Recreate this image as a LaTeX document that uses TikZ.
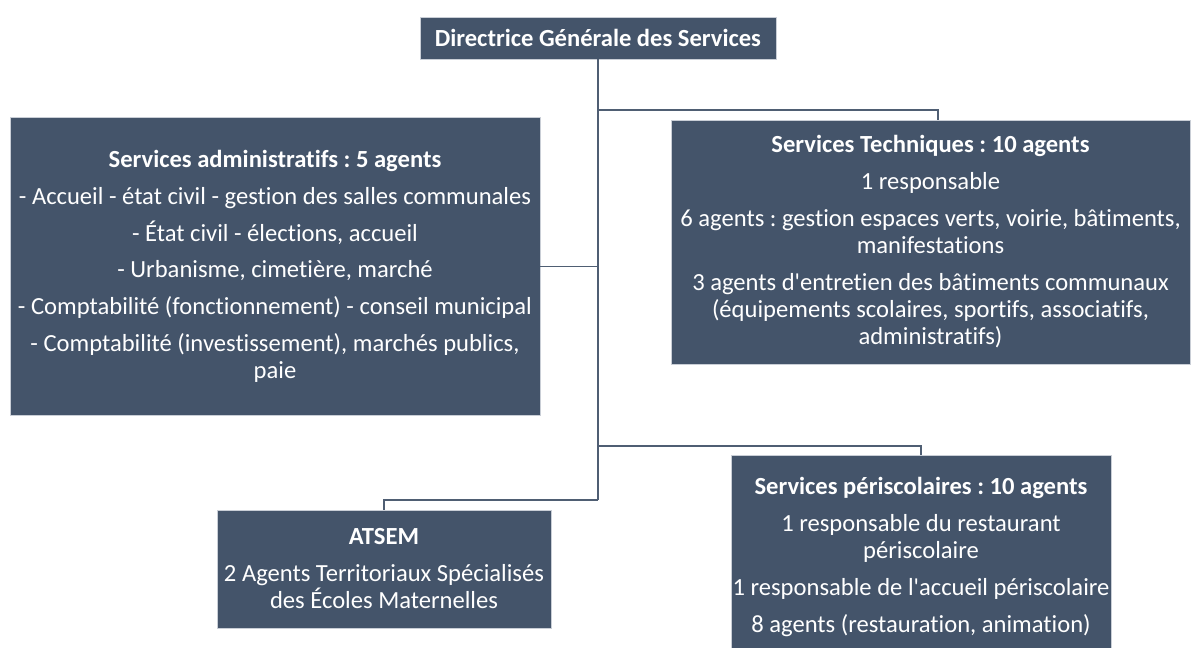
\documentclass[tikz,border=0pt]{standalone}
\usepackage{fontspec}
\setmainfont{Carlito}[Ligatures={NoCommon}]
\frenchspacing
\usetikzlibrary{calc}
\definecolor{boxblue}{HTML}{44546A}
\definecolor{boxedge}{HTML}{C9CED6}
\definecolor{linecol}{HTML}{4F5E73}
\tikzset{
  orgbox/.style={rectangle, fill=boxblue, draw=boxedge, line width=0.4pt, text=white,
    inner sep=0pt, align=center, font=\fontsize{12.3}{13.6}\selectfont},
  conn/.style={draw=linecol, line width=0.75pt},
}
\begin{document}
\begin{tikzpicture}[x=0.5pt,y=-0.5pt]
\useasboundingbox (0,0) rectangle (1191,648);
\begin{scope}
\clip (0,0) rectangle (1191,648);
\node[orgbox, minimum width=178pt, minimum height=21pt] (dgs) at (598,38)
  {\textbf{Directrice Générale des Services}};
\node[orgbox, minimum width=265pt, minimum height=149pt] (admin) at (275,266.5)
  {\textbf{Services administratifs : 5 agents}\\[4.8pt]
   - Accueil - état civil - gestion des salles communales\\[4.8pt]
   - État civil - élections, accueil\\[4.8pt]
   - Urbanisme, cimetière, marché\\[4.8pt]
   - Comptabilité (fonctionnement) - conseil municipal\\[4.8pt]
   - Comptabilité (investissement), marchés publics,\\
   paie};
\node[orgbox, minimum width=259.5pt, minimum height=122pt] (tech) at (930.5,242)
  {\textbf{Services Techniques : 10 agents}\\[4.8pt]
   1 responsable\\[4.8pt]
   6 agents : gestion espaces verts, voirie, bâtiments,\\
   manifestations\\[4.8pt]
   3 agents d\textquotesingle entretien des bâtiments communaux\\
   (équipements scolaires, sportifs, associatifs,\\
   administratifs)};
\node[orgbox, minimum width=167pt, minimum height=59pt] (atsem) at (384,569)
  {\textbf{ATSEM}\\[4.8pt]
   2 Agents Territoriaux Spécialisés\\
   des Écoles Maternelles};
\node[orgbox, minimum width=190pt, minimum height=102pt] (peri) at (921,557)
  {\textbf{Services périscolaires : 10 agents}\\[4.8pt]
   1 responsable du restaurant\\
   périscolaire\\[4.8pt]
   1 responsable de l\textquotesingle accueil périscolaire\\[4.8pt]
   8 agents (restauration, animation)};
\end{scope}
\coordinate (jt) at (598,110);
\coordinate (techin) at (938,120);
\coordinate (jp) at (598,446);
\coordinate (trunkend) at (598,500);
\draw[conn] (dgs.south) -- (trunkend);
\draw[conn] (jt) -| (techin);
\draw[conn] (admin.east) -- (admin.east -| trunkend);
\draw[conn] (jp) -| (peri.north);
\draw[conn] (trunkend) -| (atsem.north);
\end{tikzpicture}
\end{document}
